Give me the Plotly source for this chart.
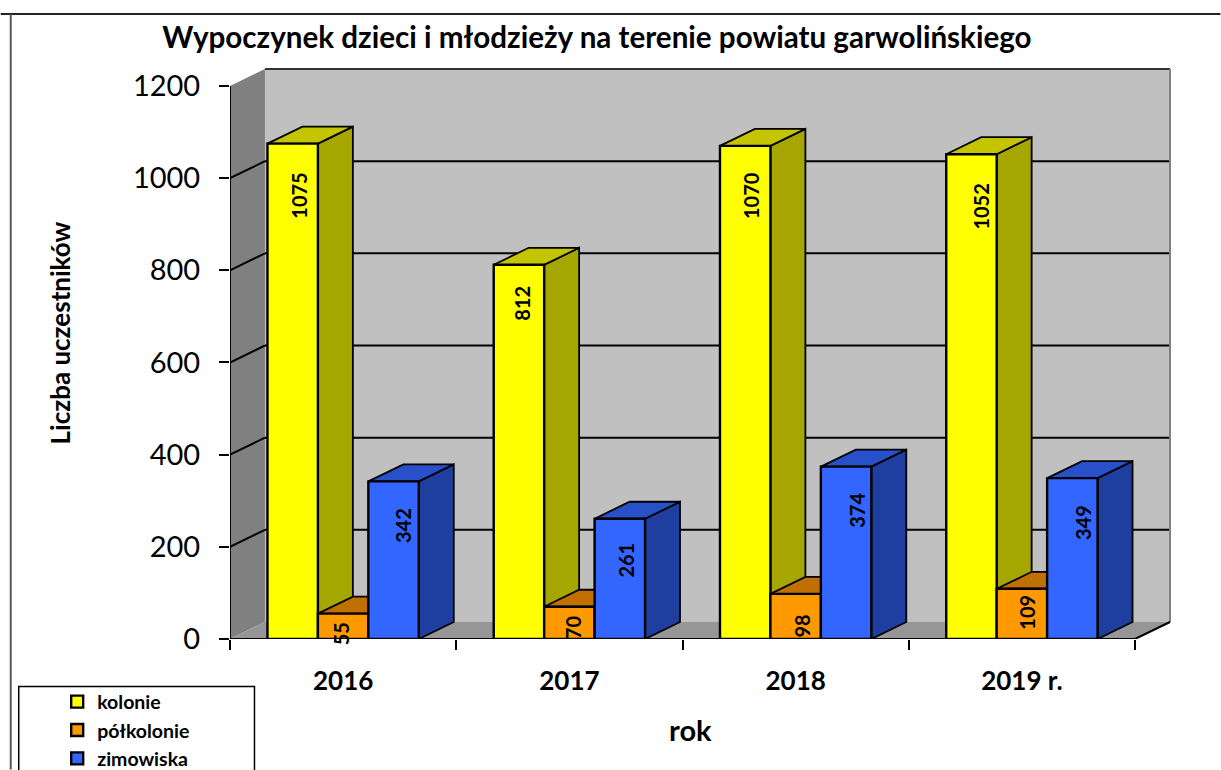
import plotly.graph_objects as go

years = ["2016", "2017", "2018", "2019 r."]
kolonie = [1075, 812, 1070, 1052]
polkolonie = [55, 70, 98, 109]
zimowiska = [342, 261, 374, 349]
y_ticks = [0, 200, 400, 600, 800, 1000, 1200]

W, H = 1221, 770
L, R, T, B = 229.5, 1171.5, 68.0, 639.5
CAT_PX = 226.5
PX_PER_VAL = (B - 86.0) / 1200
DX = 35 / CAT_PX
DY = 17 / PX_PER_VAL
X_RANGE = [-0.5, -0.5 + (R - L) / CAT_PX]
Y_RANGE = [0, (B - T) / PX_PER_VAL]
BAR_W = 50.5 / CAT_PX
FONT = "Lato, Carlito, Calibri, sans-serif"


def px(x):
    return (x - L) / (R - L)


def py(y):
    return (B - y) / (B - T)


series = [
    ("kolonie", kolonie, "#FFFF00", "#A6A600", "#C4C400", [52.5, 38, 50, 52], [6, 3, 6, 10]),
    ("półkolonie", polkolonie, "#FF9900", "#A86500", "#C07000", [20, 20, 32, 23], [-2.5, 3, 6, 5]),
    ("zimowiska", zimowiska, "#3366FF", "#1F3FA0", "#2850C8", [44, 41, 44, 44], [10, 6, 10, 10.5]),
]

fig = go.Figure()

# 3D side and top faces on the base axes
for s, (name, vals, front, side, top, _, _x) in enumerate(series):
    for c, v in enumerate(vals):
        x0 = c - 1.5 * BAR_W + s * BAR_W
        x1 = x0 + BAR_W
        fig.add_trace(go.Scatter(
            x=[x1, x1 + DX, x1 + DX, x1, x1], y=[0, DY, v + DY, v, 0],
            mode="lines", fill="toself", fillcolor=side,
            line=dict(color="black", width=1.8), showlegend=False,
            hoverinfo="skip", xaxis="x", yaxis="y"))
        fig.add_trace(go.Scatter(
            x=[x0, x1, x1 + DX, x0 + DX, x0], y=[v, v, v + DY, v + DY, v],
            mode="lines", fill="toself", fillcolor=top,
            line=dict(color="black", width=1.8), showlegend=False,
            hoverinfo="skip", xaxis="x", yaxis="y"))

# front faces on the overlay axes, so they cover the neighbouring side faces
for name, vals, front, side, top, _, _x in series:
    fig.add_trace(go.Bar(
        name=name, x=years, y=vals, marker=dict(color=front, line=dict(color="black", width=2.4)),
        legendgroup=name, xaxis="x2", yaxis="y2"))

shapes = []
# back wall, side wall, floor
shapes.append(dict(type="path", layer="below", xref="x", yref="y", fillcolor="#C0C0C0",
                   line=dict(width=0),
                   path=f"M {-0.5+DX},{DY} L {3.5+DX},{DY} L {3.5+DX},{1200+DY} L {-0.5+DX},{1200+DY} Z"))
shapes.append(dict(type="path", layer="below", xref="x", yref="y", fillcolor="#808080",
                   line=dict(width=0),
                   path=f"M -0.5,0 L {-0.5+DX},{DY} L {-0.5+DX},{1200+DY} L -0.5,1200 Z"))
shapes.append(dict(type="path", layer="below", xref="x", yref="y", fillcolor="#969696",
                   line=dict(width=0),
                   path=f"M -0.5,0 L 3.5,0 L {3.5+DX},{DY} L {-0.5+DX},{DY} Z"))
for v in y_ticks[1:-1]:
    shapes.append(dict(type="line", layer="below", xref="x", yref="y", x0=-0.5, y0=v, x1=-0.5 + DX, y1=v + DY,
                       line=dict(color="black", width=2)))
    shapes.append(dict(type="line", layer="below", xref="x", yref="y", x0=-0.5 + DX, y0=v + DY, x1=3.5 + DX, y1=v + DY,
                       line=dict(color="black", width=2)))
# wall edges
shapes.append(dict(type="line", layer="below", xref="x", yref="y", x0=-0.5 + DX, y0=1200 + DY, x1=3.5 + DX, y1=1200 + DY,
                   line=dict(color="#333333", width=2)))
shapes.append(dict(type="line", layer="below", xref="x", yref="y", x0=3.5 + DX, y0=DY, x1=3.5 + DX, y1=1200 + DY,
                   line=dict(color="#808080", width=2)))
# axis lines
shapes.append(dict(type="line", layer="below", xref="x", yref="y", x0=-0.5, y0=0, x1=-0.5, y1=1200,
                   line=dict(color="black", width=2)))
shapes.append(dict(type="line", layer="below", xref="x", yref="y", x0=-0.5, y0=0, x1=3.5, y1=0,
                   line=dict(color="black", width=2)))
shapes.append(dict(type="line", layer="below", xref="x", yref="y", x0=3.5, y0=0, x1=3.5 + DX, y1=DY,
                   line=dict(color="black", width=2)))
# outer frame and legend box
shapes.append(dict(type="line", xref="paper", yref="paper", x0=px(0), x1=px(W), y0=py(14), y1=py(14),
                   line=dict(color="#222222", width=2)))
shapes.append(dict(type="line", xref="paper", yref="paper", x0=px(10), x1=px(10), y0=py(14), y1=py(H),
                   line=dict(color="#555555", width=2)))
shapes.append(dict(type="rect", xref="paper", yref="paper", x0=px(18), x1=px(254), y0=py(H + 5), y1=py(687),
                   fillcolor="white", layer="below", line=dict(color="black", width=1.5)))

annotations = []
for idx, (name, vals, front, side, top, offs, xs) in enumerate(series):
    for c, v in enumerate(vals):
        annotations.append(dict(
            x=c, y=v, xref="x2", yref="y2", text=f"<b>{v}</b>", showarrow=False,
            textangle=-90, yshift=-offs[c], xshift=(idx - 1) * 50.5 + xs[c],
            xanchor="center", yanchor="middle",
            font=dict(family=FONT, size=20, color="black")))
annotations.append(dict(x=px(690), y=py(730), xref="paper", yref="paper", text="<b>rok</b>", showarrow=False,
                        xanchor="center", yanchor="middle",
                        font=dict(family=FONT, size=29, color="black")))
annotations.append(dict(x=px(59), y=py(333), xref="paper", yref="paper", text="<b>Liczba uczestników</b>",
                        xanchor="center", yanchor="middle",
                        showarrow=False, textangle=-90, font=dict(family=FONT, size=26, color="black")))

fig.update_layout(
    width=W, height=H, autosize=False,
    margin=dict(l=L, r=W - R, t=T, b=H - B, pad=0, autoexpand=False),
    paper_bgcolor="white", plot_bgcolor="rgba(0,0,0,0)",
    font=dict(family=FONT, color="black"),
    title=dict(text="<b>Wypoczynek dzieci i młodzieży na terenie powiatu garwolińskiego</b>",
               x=597 / W, xanchor="center", y=1 - 38 / H, yanchor="middle", yref="container",
               font=dict(family=FONT, size=29.6, color="black")),
    barmode="group", bargap=1 - 3 * BAR_W, bargroupgap=0,
    xaxis=dict(range=X_RANGE, tickmode="array", tickvals=[-0.5, 0.5, 1.5, 2.5, 3.5], ticktext=[""] * 5,
               ticks="outside", ticklen=10, tickwidth=1.5, tickcolor="black", showgrid=False, zeroline=False,
               showline=False, anchor="y"),
    yaxis=dict(range=Y_RANGE, tickmode="array", tickvals=y_ticks, ticks="outside", ticklen=10, tickwidth=1.5,
               tickcolor="black", showgrid=False, zeroline=False, showline=False, anchor="x",
               tickfont=dict(family=FONT, size=29, color="black"), ticklabelstandoff=13),
    xaxis2=dict(overlaying="x", range=X_RANGE, type="category", categoryorder="array", categoryarray=years,
                side="bottom", anchor="y2", showgrid=False, zeroline=False, showline=False, ticks="",
                ticklabelstandoff=24, tickfont=dict(family=FONT, size=26, color="black", weight="bold")),
    yaxis2=dict(overlaying="y", range=Y_RANGE, visible=False, anchor="x2"),
    legend=dict(x=px(56.5), y=py(683), xanchor="left", yanchor="top", bgcolor="rgba(0,0,0,0)", borderwidth=0,
                itemwidth=30, traceorder="normal", tracegroupgap=0,
                font=dict(family=FONT, size=19.5, color="black", weight="bold")),
    shapes=shapes, annotations=annotations, showlegend=True,
)

fig.write_html("out.html", config={"displayModeBar": False},
               post_script="document.body.style.margin='0';document.body.style.overflow='hidden';")
